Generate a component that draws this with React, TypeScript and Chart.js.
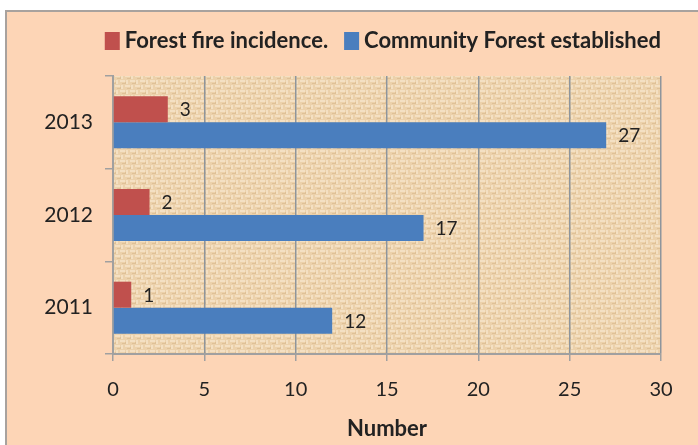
import React, { useEffect, useRef } from "react";
import { Chart, registerables } from "chart.js";

Chart.register(...registerables);

const years = ["2013", "2012", "2011"];
const fireIncidence = [3, 2, 1];
const communityForest = [27, 17, 12];
const seriesNames = ["Forest fire incidence.", "Community Forest established"];
const seriesColors = ["#C0504D", "#4A7EBE"];
const xMin = 0;
const xMax = 30;
const xStep = 5;
const axisTitle = "Number";

const FONT = "Lato, 'DejaVu Sans Condensed', sans-serif";
const TEXT = "#222222";

function makePattern(): CanvasPattern | string {
  const pc = document.createElement("canvas");
  pc.width = 10;
  pc.height = 10;
  const g = pc.getContext("2d");
  if (!g) return "#ECD2AE";
  g.fillStyle = "#ECD1AB";
  g.fillRect(0, 0, 10, 10);
  g.fillStyle = "#F4E0C3";
  g.fillRect(0, 0, 5, 2);
  g.fillRect(5, 5, 5, 2);
  g.fillRect(6, 0, 2, 4);
  g.fillRect(1, 5, 2, 4);
  g.fillStyle = "#DFC197";
  g.fillRect(5, 2, 1, 2);
  g.fillRect(0, 7, 1, 2);
  g.fillRect(2, 3, 3, 1);
  g.fillRect(7, 8, 3, 1);
  const p = g.createPattern(pc, "repeat");
  return p || "#ECD2AE";
}

const plotBg = {
  id: "plotBg",
  beforeDraw(chart: any) {
    const { ctx, chartArea } = chart;
    ctx.save();
    ctx.fillStyle = chart.$pattern || "#ECD2AE";
    ctx.fillRect(chartArea.left, chartArea.top, chartArea.right - chartArea.left, chartArea.bottom - chartArea.top);
    ctx.restore();
  },
};

const valueLabels = {
  id: "valueLabels",
  afterDatasetsDraw(chart: any) {
    const { ctx } = chart;
    ctx.save();
    ctx.font = `19px ${FONT}`;
    ctx.fillStyle = TEXT;
    ctx.textAlign = "left";
    ctx.textBaseline = "middle";
    chart.data.datasets.forEach((ds: any, di: number) => {
      const meta = chart.getDatasetMeta(di);
      meta.data.forEach((el: any, i: number) => {
        ctx.fillText(String(ds.data[i]), el.x + 12, el.y + 1);
      });
    });
    ctx.restore();
  },
};

// Legend drawn above the plot, right-aligned to the plot's right edge
const topLegend = {
  id: "topLegend",
  afterDraw(chart: any) {
    const { ctx, chartArea } = chart;
    ctx.save();
    ctx.font = `bold 22px ${FONT}`;
    ctx.textBaseline = "middle";
    ctx.textAlign = "left";
    const boxW = 15;
    const boxH = 18;
    const gapBoxText = 5;
    const gapItems = 16;
    const items = chart.data.datasets.map((ds: any) => ({
      label: ds.label,
      color: ds.backgroundColor,
      w: ctx.measureText(ds.label).width,
    }));
    const total = items.reduce((s: number, it: any) => s + boxW + gapBoxText + it.w, 0) + gapItems * (items.length - 1);
    let x = chartArea.right - total;
    const cy = chartArea.top - 35;
    items.forEach((it: any) => {
      ctx.fillStyle = it.color;
      ctx.fillRect(x, cy - boxH / 2, boxW, boxH);
      x += boxW + gapBoxText;
      ctx.fillStyle = TEXT;
      ctx.fillText(it.label, x, cy);
      x += it.w + gapItems;
    });
    ctx.restore();
  },
};

export default function App() {
  const ref = useRef<HTMLCanvasElement>(null);
  useEffect(() => {
    document.body.style.margin = "0";
    const canvas = ref.current;
    if (!canvas) return;
    const chart: any = new Chart(canvas, {
      type: "bar",
      data: {
        labels: years,
        datasets: [
          { label: seriesNames[0], data: fireIncidence, backgroundColor: seriesColors[0], categoryPercentage: 0.561, barPercentage: 1 },
          { label: seriesNames[1], data: communityForest, backgroundColor: seriesColors[1], categoryPercentage: 0.561, barPercentage: 1 },
        ],
      },
      options: {
        indexAxis: "y",
        responsive: false,
        animation: false,
        layout: { padding: { left: 0, right: 37, top: 76, bottom: 0 } },
        plugins: {
          legend: { display: false },
          tooltip: { enabled: false },
        },
        scales: {
          x: {
            min: xMin,
            max: xMax,
            ticks: { stepSize: xStep, color: TEXT, font: { family: FONT, size: 20 }, padding: 17 },
            grid: { color: "#8E959C", lineWidth: 1.5, tickLength: 7, tickColor: "#A0A0A0" },
            border: { color: "#A0A0A0", width: 2 },
            title: { display: true, text: axisTitle, color: TEXT, font: { family: FONT, size: 22, weight: "bold" }, padding: { top: 0, bottom: 3 } },
            afterFit(scale: any) {
              scale.height = 91;
            },
          },
          y: {
            ticks: { color: TEXT, font: { family: FONT, size: 21 }, padding: 12 },
            grid: { drawOnChartArea: false, tickLength: 8, color: "#A0A0A0", lineWidth: 1.5 },
            border: { color: "#A0A0A0", width: 2 },
            afterFit(scale: any) {
              scale.width = 113;
            },
          },
        },
      },
      plugins: [plotBg, valueLabels, topLegend],
    });
    chart.$pattern = makePattern();
    chart.draw();
    return () => chart.destroy();
  }, []);

  return (
    <div style={{ position: "fixed", left: 0, top: 0, width: 698, height: 445, background: "#ffffff", overflow: "hidden" }}>
      <div
        style={{
          position: "absolute",
          left: 5,
          top: 10,
          width: 710,
          height: 450,
          background: "#FDD5B6",
          borderTop: "2px solid #A8A29E",
          borderLeft: "2px solid #A8A29E",
        }}
      />
      <canvas ref={ref} width={698} height={445} style={{ position: "absolute", left: 0, top: 0 }} />
    </div>
  );
}
